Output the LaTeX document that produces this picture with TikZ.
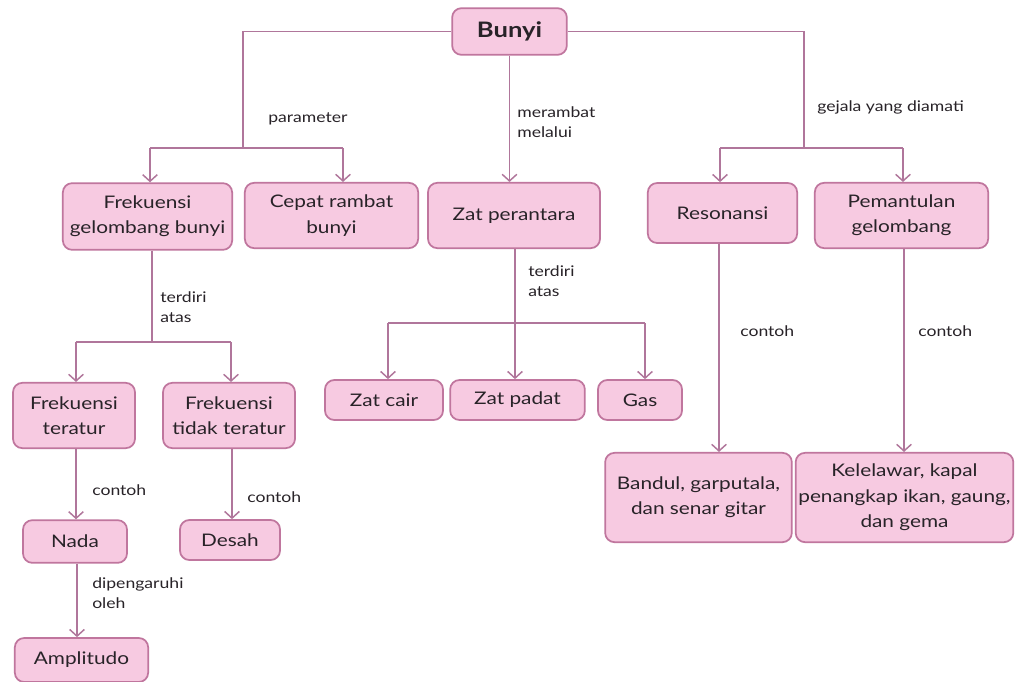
\documentclass[tikz,border=0pt]{standalone}
\usepackage{fontspec}
\setmainfont{Lato}[FakeStretch=1.2]
\usetikzlibrary{arrows.meta}
\definecolor{boxfill}{RGB}{247,202,225}
\definecolor{boxdraw}{RGB}{192,118,158}
\definecolor{linec}{RGB}{176,118,155}
\definecolor{txt}{RGB}{40,35,40}
\begin{document}
\begin{tikzpicture}[x=0.75pt,y=-0.75pt,
 box/.style={draw=boxdraw, fill=boxfill, line width=1.3pt, rounded corners=7pt, inner sep=2pt, align=center, text=txt, font=\fontsize{13}{19}\selectfont},
 lbl/.style={text=txt, font=\fontsize{11}{15}\selectfont, align=left, anchor=west, inner sep=0pt},
 conn/.style={draw=linec, line width=1.1pt},
 arr/.style={conn, -{Straight Barb[length=5pt,width=11pt]}}]
\useasboundingbox[fill=white] (0,0) rectangle (1015,682);
% boxes
\node[box, minimum width=86pt, minimum height=35pt, font=\bfseries\fontsize{16}{18}\selectfont] (bunyi) at (509.5,31.5) {Bunyi};
\node[box, minimum width=127pt, minimum height=50pt] (freq) at (147.5,216.5) {Frekuensi\\gelombang bunyi};
\node[box, minimum width=130pt, minimum height=49pt] (cepat) at (331.5,215.5) {Cepat rambat\\bunyi};
\node[box, minimum width=129pt, minimum height=49pt] (zat) at (514,215.5) {Zat perantara};
\node[box, minimum width=112pt, minimum height=45pt] (reso) at (722.5,213) {Resonansi};
\node[box, minimum width=130pt, minimum height=49pt] (pem) at (901.5,215.5) {Pemantulan\\gelombang};
\node[box, minimum width=91.5pt, minimum height=49pt] (fter) at (74,415.5) {Frekuensi\\teratur};
\node[box, minimum width=99pt, minimum height=49pt] (ftid) at (229,415.5) {Frekuensi\\tidak teratur};
\node[box, minimum width=88.5pt, minimum height=30pt] (cair) at (384,400) {Zat cair};
\node[box, minimum width=101pt, minimum height=30pt] (padat) at (517.5,400) {Zat padat};
\node[box, minimum width=63pt, minimum height=30pt] (gas) at (640,400) {Gas};
\node[box, minimum width=78pt, minimum height=32pt] (nada) at (75,541.5) {Nada};
\node[box, minimum width=75pt, minimum height=30pt] (desah) at (230,540) {Desah};
\node[box, minimum width=100pt, minimum height=33pt] (ampl) at (81.5,660) {Amplitudo};
\node[box, minimum width=140pt, minimum height=67pt] (bandul) at (698.5,497.5) {Bandul, garputala,\\dan senar gitar};
\node[box, minimum width=162pt, minimum height=67pt] (kele) at (904.5,497.5) {Kelelawar, kapal\\penangkap ikan, gaung,\\dan gema};
% junction coordinates
\coordinate (jL) at (243,148);
\coordinate (jLa) at (150,148);
\coordinate (jLb) at (343,148);
\coordinate (jR) at (804,148);
\coordinate (jRa) at (720,148);
\coordinate (jRb) at (903,148);
\coordinate (jF) at (152,342);
\coordinate (jFa) at (76,342);
\coordinate (jFb) at (231,342);
\coordinate (jZ) at (515,323);
\coordinate (jZa) at (388,323);
\coordinate (jZb) at (645,323);
% connectors
\draw[conn] (bunyi.west) -| (jL);
\draw[conn] (jLa) -- (jLb);
\draw[arr] (jLa) -- (jLa |- freq.north);
\draw[arr] (jLb) -- (jLb |- cepat.north);
\draw[conn] (bunyi.east) -| (jR);
\draw[conn] (jRa) -- (jRb);
\draw[arr] (jRa) -- (jRa |- reso.north);
\draw[arr] (jRb) -- (jRb |- pem.north);
\draw[arr] (bunyi.south) -- (bunyi.south |- zat.north);
\draw[conn] (jF |- freq.south) -- (jF);
\draw[conn] (jFa) -- (jFb);
\draw[arr] (jFa) -- (jFa |- fter.north);
\draw[arr] (jFb) -- (jFb |- ftid.north);
\draw[conn] (jZ |- zat.south) -- (jZ);
\draw[conn] (jZa) -- (jZb);
\draw[arr] (jZa) -- (jZa |- cair.north);
\draw[arr] (jZ) -- (jZ |- padat.north);
\draw[arr] (jZb) -- (jZb |- gas.north);
\draw[arr] (reso.south -| 719,0) -- (bandul.north -| 719,0);
\draw[arr] (pem.south -| 904,0) -- (kele.north -| 904,0);
\draw[arr] (fter.south -| 76,0) -- (nada.north -| 76,0);
\draw[arr] (ftid.south -| 232,0) -- (desah.north -| 232,0);
\draw[arr] (nada.south -| 77,0) -- (ampl.north -| 77,0);
% labels
\node[lbl] (lpar) at (268,119) {parameter};
\node[lbl] (lmer) at (517,122) {merambat\\melalui};
\node[lbl] (lgej) at (817,107) {gejala yang diamati};
\node[lbl] (lter1) at (160,307) {terdiri\\atas};
\node[lbl] (lter2) at (528,281) {terdiri\\atas};
\node[lbl] (lc1) at (740,331) {contoh};
\node[lbl] (lc2) at (918,331) {contoh};
\node[lbl] (lc3) at (92,490) {contoh};
\node[lbl] (lc4) at (247,497) {contoh};
\node[lbl] (ldip) at (92,593) {dipengaruhi\\oleh};
\end{tikzpicture}
\end{document}
